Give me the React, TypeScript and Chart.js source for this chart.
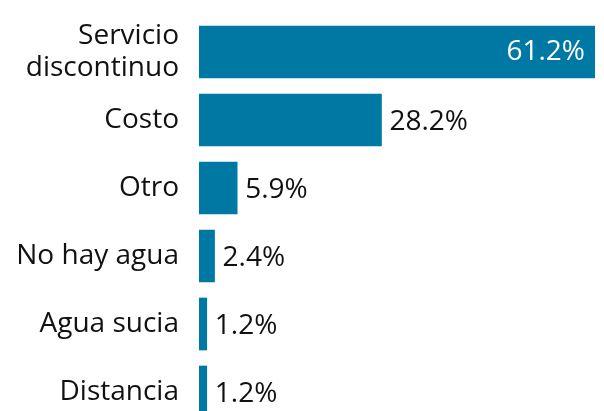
import React, { useEffect, useRef } from "react";
import { Chart, registerables } from "chart.js";

Chart.register(...registerables);

const categories: (string | string[])[] = [
  ["Servicio", "discontinuo"],
  "Costo",
  "Otro",
  "No hay agua",
  "Agua sucia",
  "Distancia",
];
const values: number[] = [61.2, 28.2, 5.9, 2.4, 1.2, 1.2];
const valueLabels: string[] = ["61.2%", "28.2%", "5.9%", "2.4%", "1.2%", "1.2%"];

const BAR_COLOR = "#0078A4";
const FONT_FAMILY = "'Open Sans', 'Noto Sans', sans-serif";
const FONT_SIZE = 28;

const valueLabelPlugin = {
  id: "valueLabels",
  afterDatasetsDraw(chart: any) {
    const ctx = chart.ctx;
    const meta = chart.getDatasetMeta(0);
    ctx.save();
    ctx.font = `${FONT_SIZE}px ${FONT_FAMILY}`;
    ctx.textBaseline = "middle";
    meta.data.forEach((el: any, i: number) => {
      const { x, y } = el.getProps(["x", "y"], true);
      if (i === 0) {
        ctx.fillStyle = "#ffffff";
        ctx.textAlign = "right";
        ctx.fillText(valueLabels[i], x - 10, y);
      } else {
        ctx.fillStyle = "#111111";
        ctx.textAlign = "left";
        ctx.fillText(valueLabels[i], x + 8, y + 2);
      }
    });
    ctx.restore();
  },
};

export default function App() {
  const ref = useRef<HTMLCanvasElement | null>(null);
  useEffect(() => {
    if (!ref.current) return;
    const chart = new Chart(ref.current, {
      type: "bar",
      data: {
        labels: categories,
        datasets: [
          {
            data: values,
            backgroundColor: BAR_COLOR,
            borderWidth: 0,
            barThickness: 52,
          },
        ],
      },
      options: {
        indexAxis: "y",
        responsive: false,
        animation: false,
        layout: { padding: { top: 10, bottom: 2, right: 9, left: 0 } },
        plugins: {
          legend: { display: false },
          tooltip: { enabled: false },
        },
        scales: {
          x: {
            display: false,
            min: 0,
            max: 61.2,
          },
          y: {
            grid: { display: false },
            border: { display: false },
            ticks: {
              color: "#111111",
              padding: 12,
              font: { size: FONT_SIZE, family: FONT_FAMILY, lineHeight: 1.15 },
            },
            afterFit(scale: any) {
              scale.width = 191;
              scale.paddingTop = 0;
              scale.paddingBottom = 0;
            },
          },
        },
      },
      plugins: [valueLabelPlugin],
    });
    return () => chart.destroy();
  }, []);
  return (
    <div style={{ width: 596, height: 403, overflow: "hidden" }}>
      <canvas ref={ref} width={596} height={420} style={{ display: "block" }} />
    </div>
  );
}
